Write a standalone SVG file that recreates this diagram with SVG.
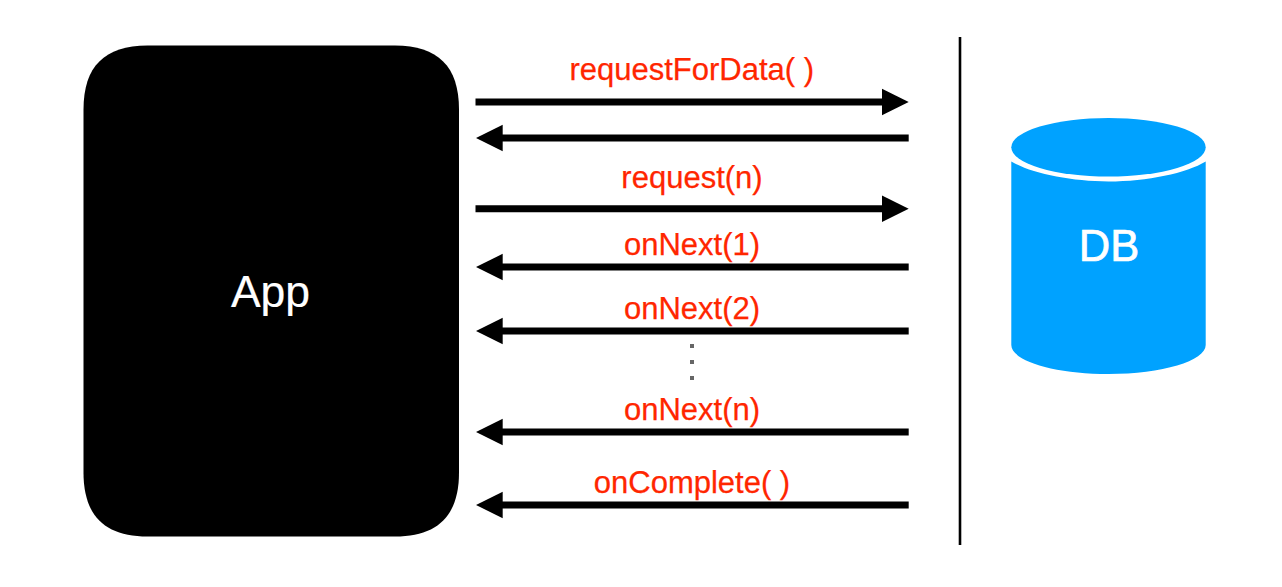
<svg xmlns="http://www.w3.org/2000/svg" width="1282" height="587" viewBox="0 0 1282 587">
<style>
text{font-family:"Liberation Sans",Arial,sans-serif;text-anchor:middle}
.lbl{font-size:31px;fill:#FF2600;stroke:#FF2600;stroke-width:.25}
.name{fill:#fff;stroke:#fff}
.wire{stroke:#000;stroke-width:7;fill:none}
.head{fill:#000}
</style>
<defs>
<polygon id="hr" class="head" points="882,-13.2 908.7,0 882,13.2"/>
<polygon id="hl" class="head" points="502.7,-13.2 476,0 502.7,13.2"/>
</defs>
<rect width="1282" height="587" fill="#fff"/>
<g id="app">
<path fill="#000" d="M83.5 109.5C83.5 66.5 104.5 45.5 147.5 45.5H395C438 45.5 459 66.5 459 109.5V472.5C459 515.5 438 536.5 395 536.5H147.5C104.5 536.5 83.5 515.5 83.5 472.5Z"/>
<text class="name" x="270.5" y="307" font-size="44.5" stroke-width=".2">App</text>
</g>
<g id="db">
<path fill="#00A2FF" d="M1011.3 161.5C1030 173 1070 181.5 1108.5 181.5C1147 181.5 1187 173 1205.7 161.5V345C1205.7 361 1162 374 1108.5 374C1055 374 1011.3 361 1011.3 345Z"/>
<ellipse fill="#00A2FF" cx="1108.5" cy="147.3" rx="97.2" ry="29.3"/>
<text class="name" x="1109" y="261" font-size="43.5" stroke-width=".7">DB</text>
</g>
<g id="divider"><line x1="960" y1="37" x2="960" y2="545" stroke="#000" stroke-width="2.6"/></g>
<g id="connectors">
<g><line class="wire" x1="475.5" y1="102" x2="885" y2="102"/><use href="#hr" y="102"/></g>
<g><line class="wire" x1="908.7" y1="138" x2="500" y2="138"/><use href="#hl" y="138"/></g>
<g><line class="wire" x1="475.5" y1="208.7" x2="885" y2="208.7"/><use href="#hr" y="208.7"/></g>
<g><line class="wire" x1="908.7" y1="267" x2="500" y2="267"/><use href="#hl" y="267"/></g>
<g><line class="wire" x1="908.7" y1="331" x2="500" y2="331"/><use href="#hl" y="331"/></g>
<g><line class="wire" x1="908.7" y1="432" x2="500" y2="432"/><use href="#hl" y="432"/></g>
<g><line class="wire" x1="908.7" y1="505" x2="500" y2="505"/><use href="#hl" y="505"/></g>
</g>
<g id="labels">
<text class="lbl" x="691.7" y="80">requestForData( )</text>
<text class="lbl" x="692" y="187.5">request(n)</text>
<text class="lbl" x="692" y="255">onNext(1)</text>
<text class="lbl" x="692" y="319">onNext(2)</text>
<text class="lbl" x="692" y="419.5">onNext(n)</text>
<text class="lbl" x="692" y="492.5">onComplete( )</text>
</g>
<g id="ellipsis" fill="#666">
<rect x="690" y="344" width="4" height="4"/>
<rect x="690" y="360" width="4" height="4"/>
<rect x="690" y="376" width="4" height="4"/>
</g>
</svg>
